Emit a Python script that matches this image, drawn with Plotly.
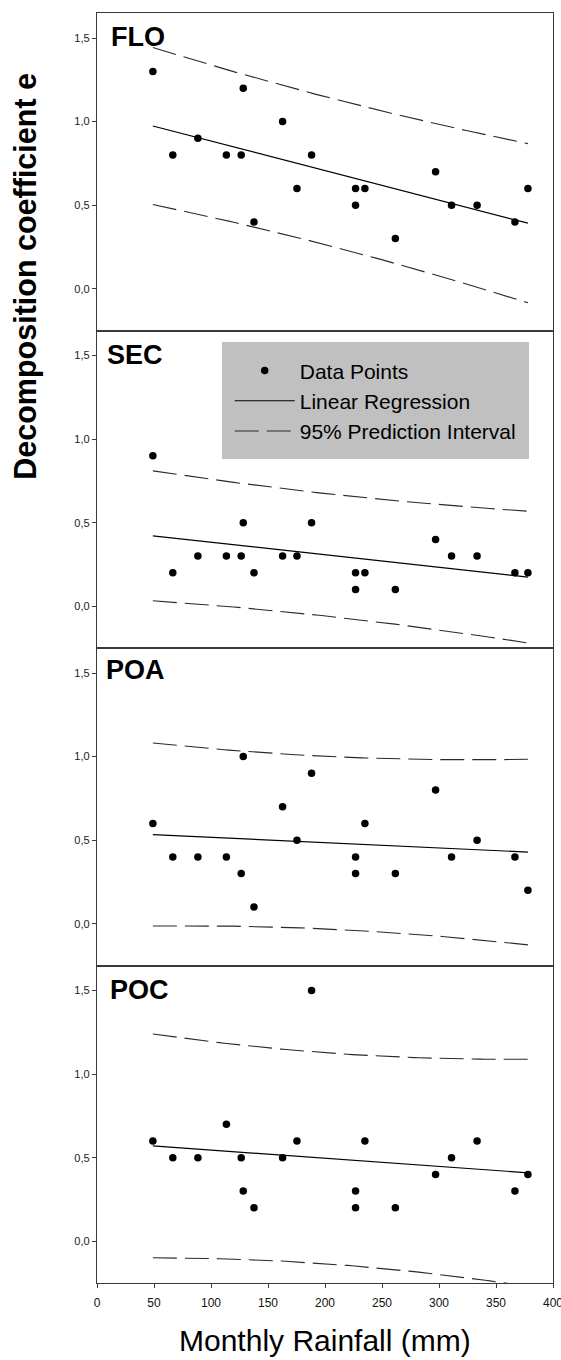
import numpy as np
import plotly.graph_objects as go
from plotly.subplots import make_subplots

# ---------------- data ----------------
rainfall = [49.0, 66.5, 88.5, 113.5, 126.5, 128.3, 137.7, 162.8, 175.4, 188.2,
            226.8, 226.8, 235.0, 261.7, 297.0, 311.0, 333.4, 366.6, 378.0]

flo = [1.3, 0.8, 0.9, 0.8, 0.8, 1.2, 0.4, 1.0, 0.6, 0.8,
       0.6, 0.5, 0.6, 0.3, 0.7, 0.5, 0.5, 0.4, 0.6]
sec = [0.9, 0.2, 0.3, 0.3, 0.3, 0.5, 0.2, 0.3, 0.3, 0.5,
       0.2, 0.1, 0.2, 0.1, 0.4, 0.3, 0.3, 0.2, 0.2]
poa = [0.6, 0.4, 0.4, 0.4, 0.3, 1.0, 0.1, 0.7, 0.5, 0.9,
       0.4, 0.3, 0.6, 0.3, 0.8, 0.4, 0.5, 0.4, 0.2]
poc = [0.6, 0.5, 0.5, 0.7, 0.5, 0.3, 0.2, 0.5, 0.6, 1.5,
       0.3, 0.2, 0.6, 0.2, 0.4, 0.5, 0.6, 0.3, 0.4]

panel_names = ["FLO", "SEC", "POA", "POC"]
panel_values = [flo, sec, poa, poc]

x_ticks = [0, 50, 100, 150, 200, 250, 300, 350, 400]
y_ticks = [0.0, 0.5, 1.0, 1.5]

legend_names = ["Data Points", "Linear Regression", "95% Prediction Interval"]

T_975_DF17 = 2.1098  # Student t quantile (0.975, 17 df)

# ---------------- style ----------------
FONT = "Liberation Sans, Arial, sans-serif"
FRAME = "#3a3a3a"
label_pos_x = [0.026, 0.017, 0.016, 0.024]
label_pos_y = [0.977, 0.977, 0.985, 0.976]


def fit_with_pi(x, y, n_grid=80):
    x = np.asarray(x, float)
    y = np.asarray(y, float)
    n = len(x)
    slope, intercept = np.polyfit(x, y, 1)
    resid = y - (intercept + slope * x)
    s = np.sqrt(np.sum(resid ** 2) / (n - 2))
    xm = x.mean()
    sxx = np.sum((x - xm) ** 2)
    xg = np.linspace(x.min(), x.max(), n_grid)
    yg = intercept + slope * xg
    half = T_975_DF17 * s * np.sqrt(1 + 1 / n + (xg - xm) ** 2 / sxx)
    return xg, yg, yg - half, yg + half


fig = make_subplots(rows=4, cols=1, vertical_spacing=0, shared_xaxes=False)

for i, (name, vals) in enumerate(zip(panel_names, panel_values)):
    row = i + 1
    show = (i == 0)
    xg, yg, lo, hi = fit_with_pi(rainfall, vals)
    dash_style = dict(color="#2a2a2a", width=1.1, dash="24px,8px")
    fig.add_trace(go.Scatter(x=xg, y=hi, mode="lines", line=dash_style,
                             name=legend_names[2], legendrank=3,
                             showlegend=show, hoverinfo="skip"), row=row, col=1)
    fig.add_trace(go.Scatter(x=xg, y=lo, mode="lines", line=dash_style,
                             name=legend_names[2], showlegend=False,
                             hoverinfo="skip"), row=row, col=1)
    fig.add_trace(go.Scatter(x=xg, y=yg, mode="lines",
                             line=dict(color="black", width=1.2),
                             name=legend_names[1], legendrank=2,
                             showlegend=show, hoverinfo="skip"), row=row, col=1)
    fig.add_trace(go.Scatter(x=rainfall, y=vals, mode="markers",
                             marker=dict(color="black", size=7.5),
                             name=legend_names[0], legendrank=1,
                             showlegend=show), row=row, col=1)

    xref = "x domain" if row == 1 else f"x{row} domain"
    yref = "y domain" if row == 1 else f"y{row} domain"
    fig.add_annotation(text=f"<b>{name}</b>", xref=xref, yref=yref,
                       x=label_pos_x[i], y=label_pos_y[i],
                       xanchor="left", yanchor="top", showarrow=False,
                       font=dict(family=FONT, size=27, color="black"))

    fig.update_yaxes(range=[-0.25, 1.65], tickvals=y_ticks, tickformat=".1f",
                     ticks="outside", ticklen=4, tickwidth=1, tickcolor=FRAME,
                     showline=True, linecolor=FRAME, linewidth=1.3, mirror=True,
                     showgrid=False, zeroline=False, automargin=False,
                     tickfont=dict(family=FONT, size=11, color="#1a1a1a"),
                     row=row, col=1)
    fig.update_xaxes(range=[0, 400], tickvals=x_ticks,
                     ticks="outside" if row == 4 else "",
                     showticklabels=(row == 4), ticklen=4, tickwidth=1,
                     tickcolor=FRAME, ticklabelstandoff=4,
                     ticklabeloverflow="allow", automargin=False,
                     showline=True, linecolor=FRAME, linewidth=1.3, mirror=True,
                     showgrid=False, zeroline=False,
                     tickfont=dict(family=FONT, size=12, color="#111"),
                     row=row, col=1)

# axis titles
fig.add_annotation(text="<b>Decomposition coefficient e</b>", xref="paper", yref="paper",
                   x=-0.156, y=0.793, xanchor="center", yanchor="middle",
                   textangle=-90, showarrow=False,
                   font=dict(family=FONT, size=30.5, color="black"))
fig.add_annotation(text="Monthly Rainfall (mm)", xref="paper", yref="paper",
                   x=0.5, y=-0.045, xanchor="center", yanchor="middle",
                   showarrow=False,
                   font=dict(family=FONT, size=30, color="black"))

fig.update_layout(
    width=561, height=1360,
    margin=dict(l=97, r=8, t=13, b=77, autoexpand=False),
    paper_bgcolor="white", plot_bgcolor="white",
    separators=", ",
    font=dict(family=FONT, color="black"),
    showlegend=True,
    legend=dict(x=0.2735, y=0.7407, xanchor="left", yanchor="top",
                bgcolor="#c0c0c0", bordercolor="#c0c0c0", borderwidth=8,
                itemwidth=60, traceorder="normal",
                font=dict(family=FONT, size=21, color="black")),
)

fig.write_html("out.html")
